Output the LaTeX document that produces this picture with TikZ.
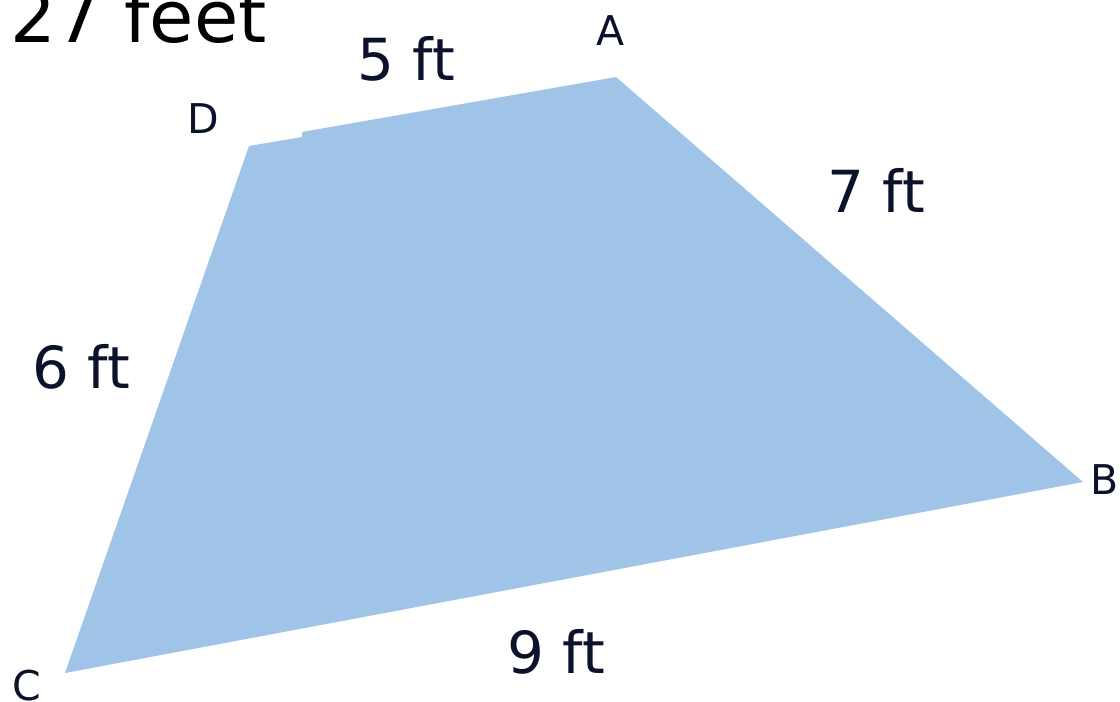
\documentclass[tikz,border=0pt]{standalone}
\usepackage{fontspec}
\setmainfont{DejaVu Sans}
\usepackage{xcolor}
\usetikzlibrary{positioning}
\definecolor{plotBlue}{RGB}{160,196,232}
\definecolor{labelNavy}{RGB}{12,18,42}

\begin{document}
\begin{tikzpicture}[x=1pt,y=-1pt,
  sidelbl/.style={anchor=base,text=labelNavy,font=\fontsize{58}{64}\selectfont},
  vertlbl/.style={anchor=base,text=labelNavy,font=\fontsize{41}{46}\selectfont}]
\useasboundingbox (0,0) rectangle (1120,702);
\coordinate (A) at (616,77);
\coordinate (B) at (1083,482);
\coordinate (C) at (65,673);
\coordinate (D) at (249,146);
\coordinate (notchlow) at (302,137);
\coordinate (notchhigh) at (302,132);
\fill[plotBlue] (C) -- (D) -- (notchlow) -- (notchhigh) -- (A) -- (B) -- cycle;
% vertex letters
\node[vertlbl] (labA) at (611,45) {A};
\node[vertlbl] (labB) at (1105,494) {B};
\node[vertlbl] (labC) at (27,700) {C};
\node[vertlbl] (labD) at (203,133) {D};
% side lengths
\node[sidelbl] (side5) at (406,80) {5 ft};
\node[sidelbl] (side7) at (876,212) {7 ft};
\node[sidelbl] (side6) at (81,388) {6 ft};
\node[sidelbl] (side9) at (556,673) {9 ft};
\node[anchor=base west,inner sep=0pt,font=\fontsize{72}{80}\selectfont] (total) at (10,42) {27 feet};
\end{tikzpicture}
\end{document}
